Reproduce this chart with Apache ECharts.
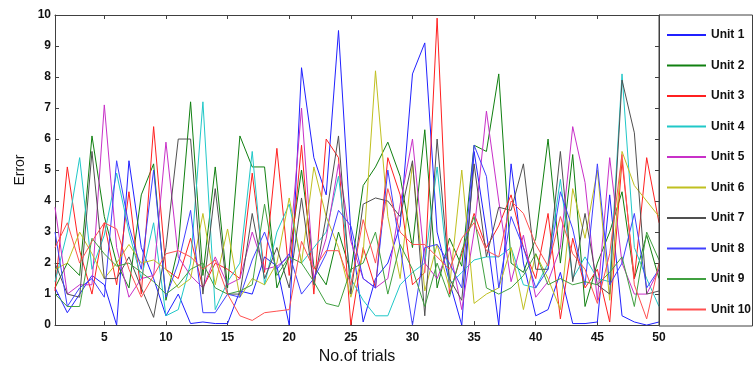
<!DOCTYPE html>
<html>
<head>
<meta charset="utf-8">
<script src="https://cdn.jsdelivr.net/npm/echarts@6/dist/echarts.min.js"></script>
<style>html,body{margin:0;padding:0;background:#fff}#c{width:753px;height:370px}</style>
</head>
<body>
<div id="c"></div>
<script>
const trials = Array.from({length: 50}, (_, i) => i + 1);
const xTicks = [5, 10, 15, 20, 25, 30, 35, 40, 45, 50];
const unitNames = ['Unit 1','Unit 2','Unit 3','Unit 4','Unit 5','Unit 6','Unit 7','Unit 8','Unit 9','Unit 10'];

const unit1 = [1.2,0.4,1.0,1.6,1.3,0.0,5.3,2.5,1.5,0.3,1.0,0.05,0.1,0.05,0.05,1.1,1.0,2.2,1.9,0.0,8.3,5.4,4.2,9.5,3.0,0.1,1.5,2.0,3.2,8.1,9.1,3.0,1.4,0.0,5.6,3.0,0.0,5.2,2.0,0.3,0.5,1.7,0.05,0.05,0.1,4.2,0.3,0.1,0.0,0.1];
const unit2 = [1.2,2.0,1.6,6.1,3.5,2.0,1.2,4.2,5.2,0.8,2.5,7.2,1.6,5.1,1.2,6.1,5.1,5.1,1.2,2.2,5.0,1.9,1.3,3.0,1.7,4.5,5.1,5.9,4.8,2.5,6.3,1.2,2.8,1.9,5.8,5.6,8.1,2.0,1.7,2.8,6.0,2.0,5.5,0.6,2.0,3.0,4.3,1.5,2.9,1.5];
const unit3 = [1.1,5.1,2.4,1.0,3.3,1.3,4.3,1.0,6.4,1.8,1.5,2.8,1.2,2.0,1.8,1.5,4.9,1.7,5.7,1.6,5.8,1.0,6.0,5.4,0.0,2.5,1.2,5.4,4.2,1.3,1.7,9.9,1.0,2.3,3.6,2.5,3.2,4.2,2.5,1.5,3.6,0.2,2.8,1.2,1.8,0.1,5.3,1.5,5.4,3.3];
const unit4 = [1.4,3.0,5.4,1.8,2.9,4.9,3.0,1.5,3.3,0.3,0.5,2.0,7.2,0.5,1.4,2.0,5.6,1.3,3.0,3.9,2.0,2.5,3.0,4.8,1.5,0.8,0.3,0.3,1.3,1.7,2.0,5.1,1.3,1.7,2.1,2.2,2.2,2.5,1.3,1.2,2.0,4.7,1.5,2.2,1.5,1.4,8.1,2.5,1.5,0.6];
const unit5 = [3.8,1.0,1.3,1.3,7.1,2.5,0.9,1.5,1.6,5.9,2.2,1.6,1.2,2.2,1.3,1.5,3.0,1.8,1.9,2.2,7.0,1.5,2.8,5.2,2.7,1.5,1.2,1.5,3.9,6.0,2.0,1.5,2.5,0.5,3.0,6.9,4.0,1.4,2.9,0.9,1.4,2.5,6.4,4.6,0.8,5.4,2.0,1.0,1.0,1.8];
const unit6 = [1.8,2.0,3.0,2.3,1.5,2.0,2.6,2.0,2.1,1.8,1.2,1.5,3.6,1.3,3.1,0.9,1.5,1.3,2.0,4.1,2.0,5.1,3.5,2.5,0.9,2.3,8.2,3.5,1.5,5.2,1.1,2.6,1.2,5.0,0.7,1.0,1.2,2.5,0.5,2.3,1.5,0.5,4.4,2.8,5.0,0.8,5.6,4.5,4.0,3.5];
const unit7 = [2.0,1.0,0.9,5.6,1.5,1.5,2.2,1.2,0.25,2.5,6.0,6.0,1.0,4.4,1.0,1.0,3.6,1.5,2.5,1.2,4.1,1.3,3.5,6.1,1.0,3.9,4.1,4.0,3.5,5.3,0.3,6.0,1.5,0.8,5.2,2.2,3.8,3.7,5.2,1.8,1.8,5.6,1.4,3.6,1.3,1.0,7.9,6.2,1.0,1.1];
const unit8 = [3.0,0.6,1.2,1.5,0.9,5.3,3.2,1.8,5.0,0.9,2.0,3.7,0.4,0.4,1.0,0.9,2.1,3.0,1.8,2.3,1.0,1.5,2.3,3.7,3.2,1.5,1.2,5.0,2.5,0.0,2.5,2.6,2.0,1.2,5.8,4.8,1.2,3.5,2.5,1.2,1.8,4.3,3.1,1.3,5.2,1.3,2.0,3.6,1.2,1.8];
const unit9 = [1.0,0.6,0.6,2.8,2.3,1.9,2.0,1.7,1.4,1.0,1.3,1.8,2.0,1.2,1.0,1.1,1.3,3.9,1.6,2.2,2.0,1.4,0.7,0.6,1.8,2.0,3.0,1.0,2.6,1.8,0.6,2.0,0.9,2.4,3.5,1.2,1.0,1.2,1.6,2.3,1.3,1.5,1.3,1.4,1.3,1.7,2.2,0.6,3.0,2.1];
const unit10 = [2.5,3.3,2.0,2.7,3.3,3.1,1.8,0.9,1.6,2.3,2.4,2.2,1.8,2.1,1.0,0.3,0.15,0.4,0.45,0.5,2.7,1.8,2.4,2.4,1.3,3.4,2.0,4.4,3.0,2.6,2.6,2.2,1.8,2.8,3.3,2.4,2.2,4.0,3.6,2.6,1.9,3.5,2.3,1.8,0.7,2.3,5.5,1.3,0.2,2.0];

const unitValues = [unit1, unit2, unit3, unit4, unit5, unit6, unit7, unit8, unit9, unit10];
const colors = ['#2020ff','#108010','#ff2020','#20c8c8','#c830c8','#c0c020','#505050','#4040ff','#40a040','#ff5050'];

const chart = echarts.init(document.getElementById('c'), null, {renderer: 'canvas'});
const tickLbl = {fontFamily: 'Liberation Sans, Arial, sans-serif', fontWeight: 'bold', fontSize: 12, color: '#111'};
const axisLineStyle = {color: '#404040', width: 1};

chart.setOption({
  animation: false,
  backgroundColor: '#fff',
  color: colors,
  grid: {left: 55, right: 94, top: 15, bottom: 44, containLabel: false},
  xAxis: [{
    type: 'value', min: 1, max: 50,
    name: 'No.of trials', nameLocation: 'middle', nameGap: 21,
    nameTextStyle: {fontFamily: 'Liberation Sans, Arial, sans-serif', fontSize: 16, color: '#111'},
    axisLine: {show: true, lineStyle: axisLineStyle},
    axisTick: {show: true, inside: true, length: 4, customValues: xTicks, lineStyle: axisLineStyle},
    axisLabel: {show: true, margin: 7, customValues: xTicks, ...tickLbl},
    splitLine: {show: false}
  }, {
    type: 'value', min: 1, max: 50, position: 'top',
    axisLine: {show: true, onZero: false, lineStyle: axisLineStyle},
    axisTick: {show: true, inside: true, length: 4, customValues: xTicks, lineStyle: axisLineStyle},
    axisLabel: {show: false},
    splitLine: {show: false}
  }],
  yAxis: [{
    type: 'value', min: 0, max: 10, interval: 1,
    name: 'Error', nameLocation: 'middle', nameGap: 15,
    nameTextStyle: {fontFamily: 'Liberation Sans, Arial, sans-serif', fontSize: 14, color: '#111'},
    axisLine: {show: true, lineStyle: axisLineStyle},
    axisTick: {show: true, inside: true, length: 4, lineStyle: axisLineStyle},
    axisLabel: {show: true, margin: 4, ...tickLbl},
    splitLine: {show: false}
  }, {
    type: 'value', min: 0, max: 10, interval: 1, position: 'right',
    axisLine: {show: true, onZero: false, lineStyle: axisLineStyle},
    axisTick: {show: true, inside: true, length: 4, lineStyle: axisLineStyle},
    axisLabel: {show: false},
    splitLine: {show: false}
  }],
  legend: {
    orient: 'vertical', left: 667, top: 28, padding: 0,
    icon: 'rect', itemWidth: 39, itemHeight: 2, itemGap: 16.5,
    textStyle: {fontFamily: 'Liberation Sans, Arial, sans-serif', fontWeight: 'bold', fontSize: 12, color: '#111', lineHeight: 14},
    data: unitNames
  },
  graphic: [{
    type: 'rect', shape: {x: 659, y: 15, width: 93.5, height: 311},
    style: {fill: 'none', stroke: '#404040', lineWidth: 1}, silent: true, z: 100
  }],
  series: unitValues.map((vals, k) => ({
    name: unitNames[k], type: 'line', showSymbol: false, symbol: 'none',
    lineStyle: {width: 1, color: colors[k]},
    itemStyle: {color: colors[k]},
    data: trials.map((t, i) => [t, vals[i]])
  }))
});
</script>
</body>
</html>
